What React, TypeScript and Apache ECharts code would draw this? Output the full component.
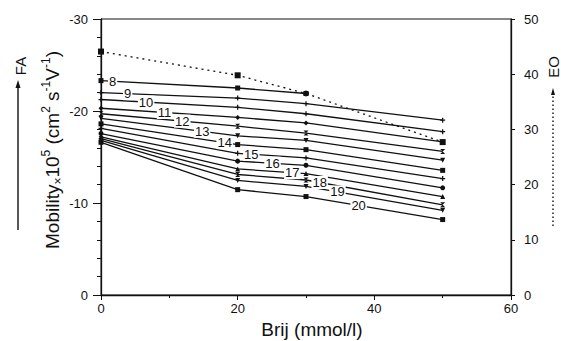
import React, { useEffect, useRef } from "react";
import * as echarts from "echarts";

// Brij concentration (mmol/l)
const BRIJ = [0, 20, 30, 50];
// Surfactant chain labels
const LINE_NAMES = ["8", "9", "10", "11", "12", "13", "14", "15", "16", "17", "18", "19", "20"];
// Mobility x10^5 (cm2 s-1 V-1), FA direction (negative)
const MOB_8 = [-23.3, -22.5, -21.9, null];
const MOB_9 = [-22.0, -21.4, -20.8, -19.0];
const MOB_10 = [-21.25, -20.4, -19.7, -17.75];
const MOB_11 = [-20.3, -19.3, -18.7, -16.65];
const MOB_12 = [-19.7, -18.35, -17.6, -15.6];
const MOB_13 = [-19.2, -17.3, -16.8, -14.65];
const MOB_14 = [-18.6, -16.35, -15.8, -13.55];
const MOB_15 = [-18.1, -15.4, -14.9, -12.65];
const MOB_16 = [-17.55, -14.55, -14.1, -11.65];
const MOB_17 = [-17.2, -13.7, -13.2, -10.7];
const MOB_18 = [-17.0, -13.1, -12.5, -9.8];
const MOB_19 = [-16.8, -12.45, -11.8, -9.2];
const MOB_20 = [-16.6, -11.45, -10.7, -8.2];
// Electroosmotic mobility (right axis)
const EO_VALUES = [44.1, 39.8, 36.5, 27.7];
const EO_SYMBOLS = ["rect", "rect", "circle", "rect"];
// Where along each line its number label sits (Brij value)
const LABEL_AT = [1.7, 3.9, 6.6, 9.3, 11.9, 14.8, 18.1, 22.0, 25.1, 28.0, 32.0, 34.6, 37.7];

const ALL_MOB = [MOB_8, MOB_9, MOB_10, MOB_11, MOB_12, MOB_13, MOB_14, MOB_15, MOB_16, MOB_17, MOB_18, MOB_19, MOB_20];

const PLUS = "path://M-1,-4H1V-1H4V1H1V4H-1V1H-4V-1H-1Z";
const HOURGLASS = "path://M-3,-3H3L-3,3H3Z";
const SYMBOLS = ["rect", PLUS, PLUS, "diamond", HOURGLASS, "triangle", "rect", PLUS, "circle", "triangle", HOURGLASS, "triangle", "rect"];
const ROTATE = [0, 0, 0, 0, 0, 180, 0, 0, 0, 0, 0, 180, 0];

const FONT = "'Liberation Sans', Arial, Helvetica, sans-serif";

function interp(vals: (number | null)[], x: number): number {
  for (let i = 0; i < BRIJ.length - 1; i++) {
    const a = vals[i];
    const b = vals[i + 1];
    if (a == null || b == null) continue;
    if (x >= BRIJ[i] && x <= BRIJ[i + 1]) {
      const t = (x - BRIJ[i]) / (BRIJ[i + 1] - BRIJ[i]);
      return a + (b - a) * t;
    }
  }
  return vals[0] as number;
}

export default function App() {
  const ref = useRef<HTMLDivElement>(null);
  useEffect(() => {
    if (!ref.current) return;
    const chart = echarts.init(ref.current, undefined, { renderer: "svg" });

    const lineSeries = ALL_MOB.map((vals, i) => ({
      type: "line",
      name: LINE_NAMES[i],
      yAxisIndex: 0,
      data: BRIJ.map((x, j) => [x, vals[j]]),
      connectNulls: false,
      symbol: SYMBOLS[i],
      symbolRotate: ROTATE[i],
      symbolSize: 5,
      showSymbol: true,
      lineStyle: { color: "#111", width: 1.3 },
      itemStyle: { color: "#111" },
      z: 2,
      markPoint: {
        z: 6,
        symbol: "circle",
        symbolSize: 1,
        itemStyle: { color: "rgba(0,0,0,0)" },
        label: {
          show: true,
          position: "inside",
          formatter: LINE_NAMES[i],
          color: "#111",
          fontFamily: FONT,
          fontSize: 13,
          backgroundColor: "#fff",
          padding: [0, 1],
          lineHeight: 13,
        },
        data: [{ coord: [LABEL_AT[i], interp(vals, LABEL_AT[i])] }],
      },
    }));

    const option: any = {
      animation: false,
      backgroundColor: "#fff",
      grid: { left: 101, right: 50, top: 19, bottom: 46, show: true, borderColor: "#111", borderWidth: 1, backgroundColor: "transparent" },
      xAxis: {
        type: "value",
        min: 0,
        max: 60,
        interval: 20,
        axisLine: { lineStyle: { color: "#111", width: 1.3 } },
        axisTick: { show: true, inside: false, length: 5, lineStyle: { color: "#111" } },
        minorTick: { show: true, splitNumber: 2, length: 3, lineStyle: { color: "#111" } },
        splitLine: { show: false },
        axisLabel: { color: "#111", fontSize: 13, fontFamily: FONT, margin: 7 },
      },
      yAxis: [
        {
          type: "value",
          min: -30,
          max: 0,
          interval: 10,
          inverse: true,
          position: "left",
          axisLine: { show: true, lineStyle: { color: "#111", width: 1.3 } },
          axisTick: { show: true, inside: false, length: 8, lineStyle: { color: "#111" } },
          minorTick: { show: true, splitNumber: 5, length: 4, lineStyle: { color: "#111" } },
          splitLine: { show: false },
          axisLabel: { color: "#111", fontSize: 13, fontFamily: FONT, margin: 13 },
        },
        {
          type: "value",
          min: 0,
          max: 50,
          interval: 10,
          position: "right",
          axisLine: { show: true, lineStyle: { color: "#111", width: 1.3 } },
          axisTick: { show: true, inside: false, length: 4, lineStyle: { color: "#111" } },
          splitLine: { show: false },
          axisLabel: { color: "#111", fontSize: 13, fontFamily: FONT, margin: 13 },
        },
      ],
      series: [
        {
          type: "line",
          name: "EO",
          yAxisIndex: 1,
          data: BRIJ.map((x, j) => ({ value: [x, EO_VALUES[j]], symbol: EO_SYMBOLS[j] })),
          symbolSize: 6,
          lineStyle: { color: "#111", width: 1.3, type: [2, 4] },
          itemStyle: { color: "#111" },
          z: 3,
        },
        ...lineSeries,
      ],
      graphic: [
        {
          type: "text",
          x: 52,
          y: 150,
          rotation: Math.PI / 2,
          style: {
            text: "{a|Mobility}{x|×}{a|10}{s|5}{a| (cm}{s|2}{a| s}{s|-1}{a|V}{s|-1}{a|)}",
            align: "center",
            verticalAlign: "middle",
            fill: "#111",
            rich: {
              a: { fontSize: 19, fontFamily: FONT, lineHeight: 24, verticalAlign: "middle", fill: "#111" },
              s: { fontSize: 12, fontFamily: FONT, lineHeight: 12, verticalAlign: "top", fill: "#111" },
              x: { fontSize: 12, fontFamily: FONT, lineHeight: 12, verticalAlign: "bottom", fill: "#111" },
            },
          },
        },
        {
          type: "text",
          x: 312,
          y: 329,
          style: { text: "Brij (mmol/l)", font: `19px ${FONT}`, fill: "#111", align: "center", verticalAlign: "middle" },
        },
        {
          type: "text",
          x: 20,
          y: 66,
          rotation: Math.PI / 2,
          style: { text: "FA", font: `15px ${FONT}`, fill: "#111", align: "center", verticalAlign: "middle" },
        },
        { type: "line", shape: { x1: 18, y1: 230, x2: 18, y2: 86 }, style: { stroke: "#111", lineWidth: 1.4 } },
        { type: "polygon", shape: { points: [[18, 80], [15.5, 88], [20.5, 88]] }, style: { fill: "#111" } },
        {
          type: "text",
          x: 553,
          y: 67,
          rotation: Math.PI / 2,
          style: { text: "EO", font: `15px ${FONT}`, fill: "#111", align: "center", verticalAlign: "middle" },
        },
        { type: "line", shape: { x1: 553, y1: 226, x2: 553, y2: 94 }, style: { stroke: "#111", lineWidth: 1.4, lineDash: [1.5, 2.5] } },
        { type: "polygon", shape: { points: [[553, 88], [551, 95], [555, 95]] }, style: { fill: "#111" } },
      ],
    };
    chart.setOption(option);
    return () => chart.dispose();
  }, []);
  return <div ref={ref} style={{ position: "fixed", left: 0, top: 0, width: 561, height: 341, background: "#fff" }} />;
}
